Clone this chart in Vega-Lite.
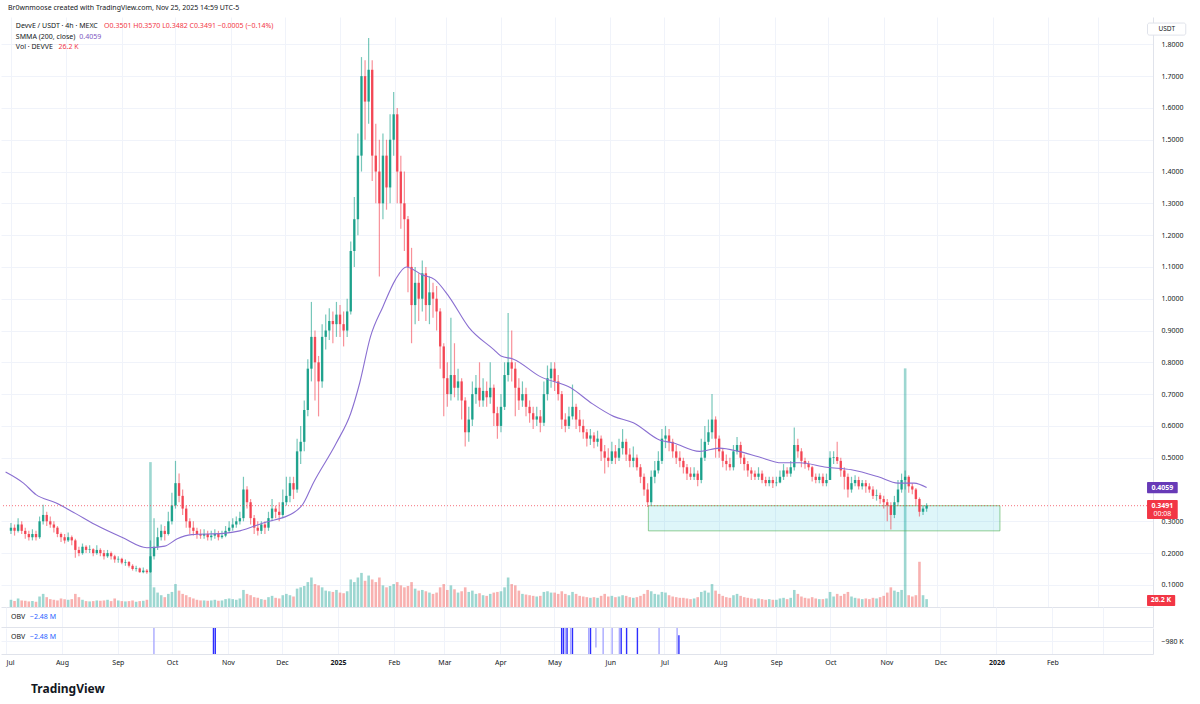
{
  "$schema": "https://vega.github.io/schema/vega-lite/v6.json",
  "padding": {"top": 4, "left": 0, "right": 0, "bottom": 8},
  "spacing": 0,
  "background": "white",
  "title": {"text": "Br0wnmoose created with TradingView.com, Nov 25, 2025 14:59 UTC-5", "anchor": "start", "frame": "group", "fontSize": 7, "fontWeight": "normal", "color": "#131722", "dx": 7, "offset": 6},
  "datasets": {
    "candles": [
      {"t":"2024-07-01","o":0.27,"h":0.295,"l":0.26,"c":0.28,"v":110},
      {"t":"2024-07-03","o":0.28,"h":0.29,"l":0.255,"c":0.27,"v":90},
      {"t":"2024-07-05","o":0.27,"h":0.31,"l":0.265,"c":0.29,"v":130},
      {"t":"2024-07-07","o":0.29,"h":0.30,"l":0.26,"c":0.27,"v":100},
      {"t":"2024-07-09","o":0.27,"h":0.28,"l":0.245,"c":0.26,"v":95},
      {"t":"2024-07-11","o":0.26,"h":0.27,"l":0.24,"c":0.25,"v":85},
      {"t":"2024-07-13","o":0.25,"h":0.275,"l":0.24,"c":0.26,"v":90},
      {"t":"2024-07-15","o":0.26,"h":0.27,"l":0.24,"c":0.25,"v":80},
      {"t":"2024-07-17","o":0.25,"h":0.315,"l":0.245,"c":0.30,"v":160},
      {"t":"2024-07-19","o":0.30,"h":0.352,"l":0.29,"c":0.32,"v":200},
      {"t":"2024-07-21","o":0.32,"h":0.33,"l":0.285,"c":0.30,"v":150},
      {"t":"2024-07-23","o":0.30,"h":0.315,"l":0.28,"c":0.29,"v":120},
      {"t":"2024-07-25","o":0.29,"h":0.30,"l":0.265,"c":0.28,"v":110},
      {"t":"2024-07-27","o":0.28,"h":0.285,"l":0.25,"c":0.26,"v":100},
      {"t":"2024-07-29","o":0.26,"h":0.265,"l":0.235,"c":0.25,"v":130},
      {"t":"2024-07-31","o":0.25,"h":0.26,"l":0.23,"c":0.24,"v":120},
      {"t":"2024-08-02","o":0.24,"h":0.265,"l":0.235,"c":0.25,"v":110},
      {"t":"2024-08-04","o":0.25,"h":0.255,"l":0.225,"c":0.24,"v":120},
      {"t":"2024-08-06","o":0.24,"h":0.245,"l":0.185,"c":0.21,"v":200},
      {"t":"2024-08-08","o":0.21,"h":0.22,"l":0.19,"c":0.20,"v":150},
      {"t":"2024-08-10","o":0.20,"h":0.23,"l":0.195,"c":0.22,"v":110},
      {"t":"2024-08-12","o":0.22,"h":0.225,"l":0.20,"c":0.21,"v":90},
      {"t":"2024-08-14","o":0.21,"h":0.225,"l":0.20,"c":0.212,"v":85},
      {"t":"2024-08-16","o":0.212,"h":0.215,"l":0.19,"c":0.20,"v":90},
      {"t":"2024-08-18","o":0.20,"h":0.225,"l":0.195,"c":0.21,"v":100},
      {"t":"2024-08-20","o":0.21,"h":0.215,"l":0.19,"c":0.20,"v":95},
      {"t":"2024-08-22","o":0.20,"h":0.21,"l":0.18,"c":0.19,"v":100},
      {"t":"2024-08-24","o":0.19,"h":0.21,"l":0.185,"c":0.20,"v":110},
      {"t":"2024-08-26","o":0.20,"h":0.205,"l":0.18,"c":0.19,"v":90},
      {"t":"2024-08-28","o":0.19,"h":0.195,"l":0.17,"c":0.18,"v":130},
      {"t":"2024-08-30","o":0.18,"h":0.19,"l":0.17,"c":0.182,"v":100},
      {"t":"2024-09-01","o":0.182,"h":0.185,"l":0.165,"c":0.17,"v":90},
      {"t":"2024-09-03","o":0.17,"h":0.18,"l":0.16,"c":0.172,"v":85},
      {"t":"2024-09-05","o":0.172,"h":0.175,"l":0.155,"c":0.16,"v":90},
      {"t":"2024-09-07","o":0.16,"h":0.165,"l":0.145,"c":0.15,"v":100},
      {"t":"2024-09-09","o":0.15,"h":0.16,"l":0.142,"c":0.152,"v":80},
      {"t":"2024-09-11","o":0.152,"h":0.155,"l":0.138,"c":0.14,"v":90},
      {"t":"2024-09-13","o":0.14,"h":0.155,"l":0.137,"c":0.145,"v":95},
      {"t":"2024-09-15","o":0.145,"h":0.15,"l":0.135,"c":0.14,"v":110},
      {"t":"2024-09-17","o":0.14,"h":0.24,"l":0.138,"c":0.19,"v":2210},
      {"t":"2024-09-19","o":0.19,"h":0.31,"l":0.18,"c":0.22,"v":300},
      {"t":"2024-09-21","o":0.22,"h":0.28,"l":0.21,"c":0.25,"v":220},
      {"t":"2024-09-23","o":0.25,"h":0.29,"l":0.24,"c":0.27,"v":180},
      {"t":"2024-09-25","o":0.27,"h":0.285,"l":0.24,"c":0.26,"v":150},
      {"t":"2024-09-27","o":0.26,"h":0.33,"l":0.255,"c":0.30,"v":200},
      {"t":"2024-09-29","o":0.30,"h":0.39,"l":0.29,"c":0.35,"v":230},
      {"t":"2024-10-01","o":0.35,"h":0.49,"l":0.34,"c":0.42,"v":350},
      {"t":"2024-10-03","o":0.42,"h":0.45,"l":0.36,"c":0.38,"v":250},
      {"t":"2024-10-05","o":0.38,"h":0.40,"l":0.32,"c":0.34,"v":200},
      {"t":"2024-10-07","o":0.34,"h":0.35,"l":0.28,"c":0.30,"v":180},
      {"t":"2024-10-09","o":0.30,"h":0.31,"l":0.26,"c":0.28,"v":150},
      {"t":"2024-10-11","o":0.28,"h":0.30,"l":0.255,"c":0.27,"v":130},
      {"t":"2024-10-13","o":0.27,"h":0.28,"l":0.245,"c":0.26,"v":110},
      {"t":"2024-10-15","o":0.26,"h":0.275,"l":0.245,"c":0.255,"v":100},
      {"t":"2024-10-17","o":0.255,"h":0.275,"l":0.245,"c":0.26,"v":100},
      {"t":"2024-10-19","o":0.26,"h":0.27,"l":0.24,"c":0.25,"v":95},
      {"t":"2024-10-21","o":0.25,"h":0.27,"l":0.24,"c":0.255,"v":100},
      {"t":"2024-10-23","o":0.255,"h":0.275,"l":0.245,"c":0.26,"v":110},
      {"t":"2024-10-25","o":0.26,"h":0.27,"l":0.24,"c":0.25,"v":95},
      {"t":"2024-10-27","o":0.25,"h":0.27,"l":0.245,"c":0.255,"v":100},
      {"t":"2024-10-29","o":0.255,"h":0.285,"l":0.25,"c":0.27,"v":120},
      {"t":"2024-10-31","o":0.27,"h":0.30,"l":0.265,"c":0.28,"v":130},
      {"t":"2024-11-02","o":0.28,"h":0.31,"l":0.27,"c":0.29,"v":120},
      {"t":"2024-11-04","o":0.29,"h":0.315,"l":0.28,"c":0.30,"v":110},
      {"t":"2024-11-06","o":0.30,"h":0.33,"l":0.29,"c":0.31,"v":130},
      {"t":"2024-11-08","o":0.31,"h":0.44,"l":0.30,"c":0.40,"v":260},
      {"t":"2024-11-10","o":0.40,"h":0.41,"l":0.34,"c":0.36,"v":200},
      {"t":"2024-11-12","o":0.36,"h":0.37,"l":0.29,"c":0.31,"v":180},
      {"t":"2024-11-14","o":0.31,"h":0.32,"l":0.26,"c":0.28,"v":150},
      {"t":"2024-11-16","o":0.28,"h":0.30,"l":0.255,"c":0.27,"v":140},
      {"t":"2024-11-18","o":0.27,"h":0.30,"l":0.26,"c":0.29,"v":120},
      {"t":"2024-11-20","o":0.29,"h":0.30,"l":0.26,"c":0.28,"v":110},
      {"t":"2024-11-22","o":0.28,"h":0.33,"l":0.27,"c":0.31,"v":150},
      {"t":"2024-11-24","o":0.31,"h":0.37,"l":0.30,"c":0.34,"v":170},
      {"t":"2024-11-26","o":0.34,"h":0.35,"l":0.31,"c":0.33,"v":140},
      {"t":"2024-11-28","o":0.33,"h":0.36,"l":0.30,"c":0.32,"v":130},
      {"t":"2024-11-30","o":0.32,"h":0.40,"l":0.31,"c":0.36,"v":180},
      {"t":"2024-12-02","o":0.36,"h":0.44,"l":0.35,"c":0.38,"v":200},
      {"t":"2024-12-04","o":0.38,"h":0.44,"l":0.36,"c":0.42,"v":180},
      {"t":"2024-12-06","o":0.42,"h":0.44,"l":0.37,"c":0.40,"v":160},
      {"t":"2024-12-08","o":0.40,"h":0.56,"l":0.39,"c":0.52,"v":280},
      {"t":"2024-12-10","o":0.52,"h":0.60,"l":0.48,"c":0.55,"v":300},
      {"t":"2024-12-12","o":0.55,"h":0.68,"l":0.52,"c":0.65,"v":320},
      {"t":"2024-12-14","o":0.65,"h":0.81,"l":0.63,"c":0.78,"v":380},
      {"t":"2024-12-16","o":0.78,"h":0.99,"l":0.74,"c":0.88,"v":450},
      {"t":"2024-12-18","o":0.88,"h":0.90,"l":0.68,"c":0.80,"v":350},
      {"t":"2024-12-20","o":0.80,"h":0.82,"l":0.63,"c":0.74,"v":330},
      {"t":"2024-12-22","o":0.74,"h":0.92,"l":0.72,"c":0.88,"v":300},
      {"t":"2024-12-24","o":0.88,"h":0.95,"l":0.84,"c":0.90,"v":250},
      {"t":"2024-12-26","o":0.90,"h":0.97,"l":0.87,"c":0.93,"v":240},
      {"t":"2024-12-28","o":0.93,"h":0.96,"l":0.86,"c":0.92,"v":230},
      {"t":"2024-12-30","o":0.92,"h":0.99,"l":0.88,"c":0.95,"v":260},
      {"t":"2025-01-01","o":0.95,"h":0.98,"l":0.88,"c":0.92,"v":220},
      {"t":"2025-01-03","o":0.92,"h":0.96,"l":0.85,"c":0.90,"v":210},
      {"t":"2025-01-05","o":0.90,"h":1.00,"l":0.88,"c":0.96,"v":240},
      {"t":"2025-01-07","o":0.96,"h":1.18,"l":0.95,"c":1.15,"v":420},
      {"t":"2025-01-09","o":1.15,"h":1.32,"l":1.10,"c":1.25,"v":380},
      {"t":"2025-01-11","o":1.25,"h":1.52,"l":1.20,"c":1.45,"v":450},
      {"t":"2025-01-13","o":1.45,"h":1.76,"l":1.40,"c":1.70,"v":520},
      {"t":"2025-01-15","o":1.70,"h":1.75,"l":1.50,"c":1.62,"v":400},
      {"t":"2025-01-17","o":1.62,"h":1.82,"l":1.55,"c":1.72,"v":480},
      {"t":"2025-01-19","o":1.72,"h":1.75,"l":1.37,"c":1.45,"v":420},
      {"t":"2025-01-21","o":1.45,"h":1.55,"l":1.30,"c":1.40,"v":380},
      {"t":"2025-01-23","o":1.40,"h":1.50,"l":1.07,"c":1.30,"v":450},
      {"t":"2025-01-25","o":1.30,"h":1.52,"l":1.25,"c":1.45,"v":330},
      {"t":"2025-01-27","o":1.45,"h":1.50,"l":1.28,"c":1.35,"v":300},
      {"t":"2025-01-29","o":1.35,"h":1.58,"l":1.30,"c":1.50,"v":320},
      {"t":"2025-01-31","o":1.50,"h":1.65,"l":1.45,"c":1.58,"v":350},
      {"t":"2025-02-02","o":1.58,"h":1.60,"l":1.30,"c":1.40,"v":380},
      {"t":"2025-02-04","o":1.40,"h":1.45,"l":1.22,"c":1.30,"v":330},
      {"t":"2025-02-06","o":1.30,"h":1.40,"l":1.15,"c":1.25,"v":300},
      {"t":"2025-02-08","o":1.25,"h":1.26,"l":1.02,"c":1.10,"v":320},
      {"t":"2025-02-10","o":1.10,"h":1.16,"l":0.86,"c":0.98,"v":380},
      {"t":"2025-02-12","o":0.98,"h":1.10,"l":0.92,"c":1.05,"v":280},
      {"t":"2025-02-14","o":1.05,"h":1.08,"l":0.93,"c":1.00,"v":250},
      {"t":"2025-02-16","o":1.00,"h":1.12,"l":0.96,"c":1.08,"v":260},
      {"t":"2025-02-18","o":1.08,"h":1.10,"l":0.93,"c":0.98,"v":240},
      {"t":"2025-02-20","o":0.98,"h":1.07,"l":0.92,"c":1.02,"v":220},
      {"t":"2025-02-22","o":1.02,"h":1.05,"l":0.94,"c":1.00,"v":200},
      {"t":"2025-02-24","o":1.00,"h":1.04,"l":0.90,"c":0.96,"v":220},
      {"t":"2025-02-26","o":0.96,"h":0.97,"l":0.78,"c":0.85,"v":300},
      {"t":"2025-02-28","o":0.85,"h":0.86,"l":0.63,"c":0.75,"v":350},
      {"t":"2025-03-02","o":0.75,"h":0.80,"l":0.66,"c":0.70,"v":260},
      {"t":"2025-03-04","o":0.70,"h":0.94,"l":0.68,"c":0.76,"v":330},
      {"t":"2025-03-06","o":0.76,"h":0.86,"l":0.69,"c":0.72,"v":270},
      {"t":"2025-03-08","o":0.72,"h":0.78,"l":0.68,"c":0.74,"v":220},
      {"t":"2025-03-10","o":0.74,"h":0.75,"l":0.62,"c":0.68,"v":240},
      {"t":"2025-03-12","o":0.68,"h":0.69,"l":0.535,"c":0.58,"v":300},
      {"t":"2025-03-14","o":0.58,"h":0.66,"l":0.55,"c":0.62,"v":230},
      {"t":"2025-03-16","o":0.62,"h":0.74,"l":0.60,"c":0.70,"v":250},
      {"t":"2025-03-18","o":0.70,"h":0.76,"l":0.67,"c":0.72,"v":200},
      {"t":"2025-03-20","o":0.72,"h":0.80,"l":0.66,"c":0.68,"v":210},
      {"t":"2025-03-22","o":0.68,"h":0.75,"l":0.66,"c":0.71,"v":180},
      {"t":"2025-03-24","o":0.71,"h":0.74,"l":0.66,"c":0.69,"v":170},
      {"t":"2025-03-26","o":0.69,"h":0.80,"l":0.67,"c":0.72,"v":200},
      {"t":"2025-03-28","o":0.72,"h":0.73,"l":0.60,"c":0.64,"v":220},
      {"t":"2025-03-30","o":0.64,"h":0.66,"l":0.56,"c":0.60,"v":230},
      {"t":"2025-04-01","o":0.60,"h":0.70,"l":0.58,"c":0.66,"v":240},
      {"t":"2025-04-03","o":0.66,"h":0.80,"l":0.65,"c":0.76,"v":300},
      {"t":"2025-04-05","o":0.76,"h":0.955,"l":0.74,"c":0.80,"v":450},
      {"t":"2025-04-07","o":0.80,"h":0.90,"l":0.74,"c":0.78,"v":350},
      {"t":"2025-04-09","o":0.78,"h":0.80,"l":0.63,"c":0.72,"v":330},
      {"t":"2025-04-11","o":0.72,"h":0.75,"l":0.65,"c":0.68,"v":250},
      {"t":"2025-04-13","o":0.68,"h":0.74,"l":0.66,"c":0.70,"v":200},
      {"t":"2025-04-15","o":0.70,"h":0.72,"l":0.63,"c":0.66,"v":190},
      {"t":"2025-04-17","o":0.66,"h":0.68,"l":0.61,"c":0.64,"v":180},
      {"t":"2025-04-19","o":0.64,"h":0.66,"l":0.59,"c":0.62,"v":170},
      {"t":"2025-04-21","o":0.62,"h":0.66,"l":0.60,"c":0.63,"v":160},
      {"t":"2025-04-23","o":0.63,"h":0.65,"l":0.58,"c":0.61,"v":170},
      {"t":"2025-04-25","o":0.61,"h":0.74,"l":0.60,"c":0.70,"v":230},
      {"t":"2025-04-27","o":0.70,"h":0.79,"l":0.68,"c":0.75,"v":240},
      {"t":"2025-04-29","o":0.75,"h":0.80,"l":0.72,"c":0.78,"v":220},
      {"t":"2025-05-01","o":0.78,"h":0.80,"l":0.71,"c":0.74,"v":220},
      {"t":"2025-05-03","o":0.74,"h":0.76,"l":0.68,"c":0.70,"v":200},
      {"t":"2025-05-05","o":0.70,"h":0.71,"l":0.59,"c":0.62,"v":240},
      {"t":"2025-05-07","o":0.62,"h":0.64,"l":0.58,"c":0.60,"v":200},
      {"t":"2025-05-09","o":0.60,"h":0.66,"l":0.59,"c":0.63,"v":180},
      {"t":"2025-05-11","o":0.63,"h":0.73,"l":0.62,"c":0.66,"v":230},
      {"t":"2025-05-13","o":0.66,"h":0.67,"l":0.59,"c":0.62,"v":200},
      {"t":"2025-05-15","o":0.62,"h":0.65,"l":0.58,"c":0.60,"v":170},
      {"t":"2025-05-17","o":0.60,"h":0.62,"l":0.56,"c":0.58,"v":160},
      {"t":"2025-05-19","o":0.58,"h":0.59,"l":0.535,"c":0.56,"v":150},
      {"t":"2025-05-21","o":0.56,"h":0.59,"l":0.54,"c":0.57,"v":140},
      {"t":"2025-05-23","o":0.57,"h":0.58,"l":0.53,"c":0.55,"v":150},
      {"t":"2025-05-25","o":0.55,"h":0.585,"l":0.535,"c":0.56,"v":140},
      {"t":"2025-05-27","o":0.56,"h":0.57,"l":0.49,"c":0.52,"v":170},
      {"t":"2025-05-29","o":0.52,"h":0.54,"l":0.45,"c":0.50,"v":200},
      {"t":"2025-05-31","o":0.50,"h":0.53,"l":0.47,"c":0.49,"v":160},
      {"t":"2025-06-02","o":0.49,"h":0.55,"l":0.48,"c":0.52,"v":170},
      {"t":"2025-06-04","o":0.52,"h":0.54,"l":0.48,"c":0.50,"v":150},
      {"t":"2025-06-06","o":0.50,"h":0.56,"l":0.49,"c":0.53,"v":160},
      {"t":"2025-06-08","o":0.53,"h":0.59,"l":0.51,"c":0.55,"v":180},
      {"t":"2025-06-10","o":0.55,"h":0.56,"l":0.49,"c":0.51,"v":170},
      {"t":"2025-06-12","o":0.51,"h":0.53,"l":0.47,"c":0.49,"v":150},
      {"t":"2025-06-14","o":0.49,"h":0.535,"l":0.47,"c":0.50,"v":140},
      {"t":"2025-06-16","o":0.50,"h":0.51,"l":0.46,"c":0.47,"v":150},
      {"t":"2025-06-18","o":0.47,"h":0.48,"l":0.42,"c":0.44,"v":170},
      {"t":"2025-06-20","o":0.44,"h":0.45,"l":0.38,"c":0.40,"v":200},
      {"t":"2025-06-22","o":0.40,"h":0.42,"l":0.345,"c":0.36,"v":260},
      {"t":"2025-06-24","o":0.36,"h":0.46,"l":0.35,"c":0.44,"v":240},
      {"t":"2025-06-26","o":0.44,"h":0.49,"l":0.42,"c":0.46,"v":200},
      {"t":"2025-06-28","o":0.46,"h":0.52,"l":0.45,"c":0.49,"v":190},
      {"t":"2025-06-30","o":0.49,"h":0.59,"l":0.48,"c":0.56,"v":230},
      {"t":"2025-07-02","o":0.56,"h":0.60,"l":0.53,"c":0.57,"v":220},
      {"t":"2025-07-04","o":0.57,"h":0.59,"l":0.52,"c":0.55,"v":180},
      {"t":"2025-07-06","o":0.55,"h":0.56,"l":0.50,"c":0.52,"v":160},
      {"t":"2025-07-08","o":0.52,"h":0.54,"l":0.48,"c":0.50,"v":150},
      {"t":"2025-07-10","o":0.50,"h":0.52,"l":0.47,"c":0.49,"v":140},
      {"t":"2025-07-12","o":0.49,"h":0.50,"l":0.45,"c":0.47,"v":140},
      {"t":"2025-07-14","o":0.47,"h":0.48,"l":0.43,"c":0.45,"v":130},
      {"t":"2025-07-16","o":0.45,"h":0.47,"l":0.43,"c":0.44,"v":120},
      {"t":"2025-07-18","o":0.44,"h":0.47,"l":0.43,"c":0.45,"v":130},
      {"t":"2025-07-20","o":0.45,"h":0.46,"l":0.41,"c":0.43,"v":150},
      {"t":"2025-07-22","o":0.43,"h":0.56,"l":0.42,"c":0.50,"v":230},
      {"t":"2025-07-24","o":0.50,"h":0.60,"l":0.49,"c":0.55,"v":250},
      {"t":"2025-07-26","o":0.55,"h":0.62,"l":0.54,"c":0.58,"v":220},
      {"t":"2025-07-28","o":0.58,"h":0.70,"l":0.56,"c":0.62,"v":350},
      {"t":"2025-07-30","o":0.62,"h":0.63,"l":0.50,"c":0.56,"v":250},
      {"t":"2025-08-01","o":0.56,"h":0.57,"l":0.50,"c":0.52,"v":200},
      {"t":"2025-08-03","o":0.52,"h":0.53,"l":0.47,"c":0.49,"v":170},
      {"t":"2025-08-05","o":0.49,"h":0.51,"l":0.46,"c":0.48,"v":150},
      {"t":"2025-08-07","o":0.48,"h":0.50,"l":0.46,"c":0.47,"v":140},
      {"t":"2025-08-09","o":0.47,"h":0.54,"l":0.46,"c":0.52,"v":180},
      {"t":"2025-08-11","o":0.52,"h":0.565,"l":0.51,"c":0.54,"v":200},
      {"t":"2025-08-13","o":0.54,"h":0.55,"l":0.48,"c":0.50,"v":170},
      {"t":"2025-08-15","o":0.50,"h":0.51,"l":0.46,"c":0.48,"v":150},
      {"t":"2025-08-17","o":0.48,"h":0.49,"l":0.44,"c":0.46,"v":140},
      {"t":"2025-08-19","o":0.46,"h":0.47,"l":0.43,"c":0.45,"v":130},
      {"t":"2025-08-21","o":0.45,"h":0.46,"l":0.43,"c":0.44,"v":120},
      {"t":"2025-08-23","o":0.44,"h":0.47,"l":0.43,"c":0.45,"v":130},
      {"t":"2025-08-25","o":0.45,"h":0.46,"l":0.42,"c":0.43,"v":120},
      {"t":"2025-08-27","o":0.43,"h":0.44,"l":0.41,"c":0.42,"v":110},
      {"t":"2025-08-29","o":0.42,"h":0.44,"l":0.41,"c":0.43,"v":120},
      {"t":"2025-08-31","o":0.43,"h":0.44,"l":0.405,"c":0.42,"v":110},
      {"t":"2025-09-02","o":0.42,"h":0.44,"l":0.41,"c":0.422,"v":110},
      {"t":"2025-09-04","o":0.422,"h":0.46,"l":0.42,"c":0.44,"v":130},
      {"t":"2025-09-06","o":0.44,"h":0.48,"l":0.43,"c":0.46,"v":140},
      {"t":"2025-09-08","o":0.46,"h":0.47,"l":0.44,"c":0.45,"v":120},
      {"t":"2025-09-10","o":0.45,"h":0.49,"l":0.44,"c":0.47,"v":140},
      {"t":"2025-09-12","o":0.47,"h":0.595,"l":0.46,"c":0.54,"v":260},
      {"t":"2025-09-14","o":0.54,"h":0.56,"l":0.50,"c":0.52,"v":200},
      {"t":"2025-09-16","o":0.52,"h":0.53,"l":0.47,"c":0.49,"v":160},
      {"t":"2025-09-18","o":0.49,"h":0.50,"l":0.465,"c":0.48,"v":140},
      {"t":"2025-09-20","o":0.48,"h":0.49,"l":0.46,"c":0.47,"v":130},
      {"t":"2025-09-22","o":0.47,"h":0.475,"l":0.425,"c":0.44,"v":150},
      {"t":"2025-09-24","o":0.44,"h":0.45,"l":0.42,"c":0.43,"v":130},
      {"t":"2025-09-26","o":0.43,"h":0.45,"l":0.42,"c":0.44,"v":120},
      {"t":"2025-09-28","o":0.44,"h":0.45,"l":0.41,"c":0.42,"v":120},
      {"t":"2025-09-30","o":0.42,"h":0.45,"l":0.41,"c":0.43,"v":130},
      {"t":"2025-10-02","o":0.43,"h":0.52,"l":0.43,"c":0.50,"v":230},
      {"t":"2025-10-04","o":0.50,"h":0.52,"l":0.48,"c":0.502,"v":160},
      {"t":"2025-10-06","o":0.502,"h":0.55,"l":0.48,"c":0.49,"v":200},
      {"t":"2025-10-08","o":0.49,"h":0.50,"l":0.44,"c":0.46,"v":170},
      {"t":"2025-10-10","o":0.46,"h":0.47,"l":0.40,"c":0.44,"v":200},
      {"t":"2025-10-12","o":0.44,"h":0.45,"l":0.375,"c":0.40,"v":230},
      {"t":"2025-10-14","o":0.40,"h":0.44,"l":0.39,"c":0.42,"v":160},
      {"t":"2025-10-16","o":0.42,"h":0.445,"l":0.41,"c":0.43,"v":140},
      {"t":"2025-10-18","o":0.43,"h":0.44,"l":0.40,"c":0.41,"v":130},
      {"t":"2025-10-20","o":0.41,"h":0.43,"l":0.40,"c":0.42,"v":120},
      {"t":"2025-10-22","o":0.42,"h":0.43,"l":0.39,"c":0.41,"v":130},
      {"t":"2025-10-24","o":0.41,"h":0.42,"l":0.39,"c":0.40,"v":120},
      {"t":"2025-10-26","o":0.40,"h":0.41,"l":0.37,"c":0.38,"v":140},
      {"t":"2025-10-28","o":0.38,"h":0.40,"l":0.365,"c":0.382,"v":130},
      {"t":"2025-10-30","o":0.382,"h":0.39,"l":0.355,"c":0.37,"v":150},
      {"t":"2025-11-01","o":0.37,"h":0.38,"l":0.34,"c":0.36,"v":170},
      {"t":"2025-11-03","o":0.36,"h":0.37,"l":0.30,"c":0.35,"v":220},
      {"t":"2025-11-05","o":0.35,"h":0.36,"l":0.274,"c":0.32,"v":300},
      {"t":"2025-11-07","o":0.32,"h":0.38,"l":0.31,"c":0.36,"v":250},
      {"t":"2025-11-09","o":0.36,"h":0.43,"l":0.35,"c":0.40,"v":230},
      {"t":"2025-11-11","o":0.40,"h":0.45,"l":0.39,"c":0.43,"v":260},
      {"t":"2025-11-13","o":0.43,"h":0.46,"l":0.40,"c":0.44,"v":3640},
      {"t":"2025-11-15","o":0.44,"h":0.445,"l":0.39,"c":0.41,"v":180},
      {"t":"2025-11-17","o":0.41,"h":0.42,"l":0.385,"c":0.40,"v":160},
      {"t":"2025-11-19","o":0.40,"h":0.405,"l":0.35,"c":0.37,"v":180},
      {"t":"2025-11-21","o":0.37,"h":0.375,"l":0.315,"c":0.33,"v":690},
      {"t":"2025-11-23","o":0.33,"h":0.35,"l":0.32,"c":0.34,"v":180},
      {"t":"2025-11-25","o":0.34,"h":0.357,"l":0.33,"c":0.3491,"v":120}
    ],
    "smma": [
      {"t":"2024-06-28","s":0.455},{"t":"2024-07-08","s":0.42},{"t":"2024-07-15","s":0.384},{"t":"2024-07-26","s":0.358},
      {"t":"2024-08-06","s":0.325},{"t":"2024-08-17","s":0.29},{"t":"2024-09-01","s":0.25},{"t":"2024-09-15","s":0.217},
      {"t":"2024-09-25","s":0.222},{"t":"2024-10-02","s":0.245},{"t":"2024-10-10","s":0.258},{"t":"2024-10-28","s":0.262},
      {"t":"2024-11-06","s":0.27},{"t":"2024-11-19","s":0.295},{"t":"2024-12-06","s":0.327},{"t":"2024-12-11","s":0.352},
      {"t":"2024-12-17","s":0.42},{"t":"2024-12-30","s":0.547},{"t":"2025-01-07","s":0.64},{"t":"2025-01-12","s":0.735},
      {"t":"2025-01-18","s":0.88},{"t":"2025-01-25","s":0.975},{"t":"2025-02-01","s":1.06},{"t":"2025-02-07","s":1.10},
      {"t":"2025-02-16","s":1.075},{"t":"2025-02-23","s":1.06},{"t":"2025-03-03","s":1.006},{"t":"2025-03-14","s":0.91},
      {"t":"2025-03-28","s":0.84},{"t":"2025-04-01","s":0.82},{"t":"2025-04-08","s":0.81},{"t":"2025-04-23","s":0.755},
      {"t":"2025-05-10","s":0.72},{"t":"2025-05-22","s":0.67},{"t":"2025-06-03","s":0.63},{"t":"2025-06-14","s":0.61},
      {"t":"2025-06-29","s":0.555},{"t":"2025-07-06","s":0.547},{"t":"2025-07-21","s":0.52},{"t":"2025-08-01","s":0.53},
      {"t":"2025-08-12","s":0.52},{"t":"2025-08-23","s":0.503},{"t":"2025-09-05","s":0.484},{"t":"2025-09-15","s":0.484},
      {"t":"2025-09-30","s":0.47},{"t":"2025-10-14","s":0.462},{"t":"2025-10-29","s":0.44},{"t":"2025-11-09","s":0.42},
      {"t":"2025-11-18","s":0.42},{"t":"2025-11-25","s":0.406}
    ],
    "zone": [
      {"start":"2025-06-22T10:00:00Z","end":"2026-01-05T00:00:00Z","top":0.349,"bottom":0.270}
    ],
    "obv": [
      {"t":"2024-09-21","lo":-1020,"hi":-940,"k":"light"},
      {"t":"2024-10-24","lo":-1020,"hi":-940,"k":"strong"},
      {"t":"2024-10-25","lo":-1020,"hi":-940,"k":"strong"},
      {"t":"2025-05-05","lo":-1020,"hi":-940,"k":"strong"},
      {"t":"2025-05-06","lo":-1020,"hi":-940,"k":"strong"},
      {"t":"2025-05-07","lo":-1020,"hi":-940,"k":"light"},
      {"t":"2025-05-08","lo":-1020,"hi":-940,"k":"strong"},
      {"t":"2025-05-10","lo":-1020,"hi":-940,"k":"light"},
      {"t":"2025-05-11","lo":-1020,"hi":-940,"k":"strong"},
      {"t":"2025-05-20","lo":-1020,"hi":-940,"k":"light"},
      {"t":"2025-05-21","lo":-1020,"hi":-940,"k":"strong"},
      {"t":"2025-05-24","lo":-1000,"hi":-940,"k":"light"},
      {"t":"2025-05-28","lo":-1020,"hi":-940,"k":"light"},
      {"t":"2025-06-02","lo":-1020,"hi":-940,"k":"light"},
      {"t":"2025-06-06","lo":-1020,"hi":-940,"k":"light"},
      {"t":"2025-06-07","lo":-1020,"hi":-940,"k":"strong"},
      {"t":"2025-06-10","lo":-1020,"hi":-940,"k":"strong"},
      {"t":"2025-06-16","lo":-1020,"hi":-940,"k":"strong"},
      {"t":"2025-06-28","lo":-1020,"hi":-940,"k":"light"},
      {"t":"2025-07-08","lo":-1020,"hi":-940,"k":"light"},
      {"t":"2025-07-09","lo":-1020,"hi":-962,"k":"strong"}
    ]
  },
  "vconcat": [
    {
      "width": 1152,
      "height": 590,
      "layer": [
        {
          "data": {"name": "candles"},
          "mark": {"type": "bar", "size": 2.6, "opacity": 0.45},
          "encoding": {
            "x": {"field": "t", "type": "temporal", "scale": {"type": "utc", "domain": [{"year": 2024, "month": 6, "date": 28, "hours": 5, "minutes": 30, "utc": true}, {"year": 2026, "month": 3, "date": 28, "hours": 19, "utc": true}]}, "axis": {"labels": false, "grid": true, "domain": true, "ticks": false, "tickCount": {"interval": "month", "step": 1}}},
            "y": {"field": "v", "type": "quantitative", "scale": {"domain": [0, 9000], "nice": false, "zero": true}, "axis": null},
            "color": {"condition": {"test": "datum.c >= datum.o", "value": "#26a69a"}, "value": "#ef5350"}
          }
        },
        {
          "layer": [
            {
              "data": {"name": "zone"},
              "mark": {"type": "rect", "fill": "#00bcd4", "fillOpacity": 0.13, "stroke": "#4caf50", "strokeOpacity": 0.6, "strokeWidth": 1},
              "encoding": {
                "x": {"field": "start", "type": "temporal"},
                "x2": {"field": "end"},
                "y": {"field": "top", "type": "quantitative", "scale": {"domain": [0.0305, 1.886], "nice": false, "zero": false}, "axis": {"orient": "right", "values": [0.1, 0.2, 0.3, 0.5, 0.6, 0.7, 0.8, 0.9, 1.0, 1.1, 1.2, 1.3, 1.4, 1.5, 1.6, 1.7, 1.8], "tickCount": 18, "format": ".4f", "grid": true, "domain": true, "ticks": false, "labelPadding": 8, "labelOverlap": false, "labelSeparation": 0, "labelBound": false}},
                "y2": {"field": "bottom"}
              }
            },
            {
              "data": {"name": "candles"},
              "mark": {"type": "rule", "strokeWidth": 1.2, "opacity": 0.55},
              "encoding": {
                "x": {"field": "t", "type": "temporal"},
                "y": {"field": "l", "type": "quantitative", "axis": {"orient": "right", "values": [0.1, 0.2, 0.3, 0.5, 0.6, 0.7, 0.8, 0.9, 1.0, 1.1, 1.2, 1.3, 1.4, 1.5, 1.6, 1.7, 1.8], "tickCount": 18, "format": ".4f", "grid": true, "domain": true, "ticks": false, "labelPadding": 8, "labelOverlap": false, "labelSeparation": 0, "labelBound": false}},
                "y2": {"field": "h"},
                "color": {"condition": {"test": "datum.c >= datum.o", "value": "#089981"}, "value": "#f23645"}
              }
            },
            {
              "data": {"name": "candles"},
              "mark": {"type": "bar", "size": 2.4, "opacity": 0.85},
              "encoding": {
                "x": {"field": "t", "type": "temporal"},
                "y": {"field": "o", "type": "quantitative"},
                "y2": {"field": "c"},
                "color": {"condition": {"test": "datum.c >= datum.o", "value": "#089981"}, "value": "#f23645"}
              }
            },
            {
              "data": {"name": "smma"},
              "mark": {"type": "line", "color": "#8a6fd1", "strokeWidth": 1.1, "interpolate": "monotone"},
              "encoding": {
                "x": {"field": "t", "type": "temporal"},
                "y": {"field": "s", "type": "quantitative"}
              }
            },
            {
              "data": {"values": [{}]},
              "mark": {"type": "rule", "color": "#f23645", "strokeDash": [1, 2], "opacity": 0.7},
              "encoding": {"y": {"datum": 0.3491, "type": "quantitative"}}
            },
            {
              "data": {"values": [{}]},
              "mark": {"type": "text", "text": "DevvE / USDT · 4h · MEXC", "align": "left", "baseline": "middle", "fontSize": 7, "color": "#131722"},
              "encoding": {"x": {"datum": {"year": 2024, "month": 7, "date": 3, "hours": 18, "utc": true}, "type": "temporal"}, "y": {"datum": 1.857, "type": "quantitative"}}
            },
            {
              "data": {"values": [{}]},
              "mark": {"type": "text", "text": "O0.3501 H0.3570 L0.3482 C0.3491 −0.0005 (−0.14%)", "align": "left", "baseline": "middle", "fontSize": 7, "color": "#f23645"},
              "encoding": {"x": {"datum": {"year": 2024, "month": 8, "date": 22, "hours": 2, "utc": true}, "type": "temporal"}, "y": {"datum": 1.857, "type": "quantitative"}}
            },
            {
              "data": {"values": [{}]},
              "mark": {"type": "text", "text": "SMMA (200, close)", "align": "left", "baseline": "middle", "fontSize": 7, "color": "#131722"},
              "encoding": {"x": {"datum": {"year": 2024, "month": 7, "date": 3, "hours": 18, "utc": true}, "type": "temporal"}, "y": {"datum": 1.8225, "type": "quantitative"}}
            },
            {
              "data": {"values": [{}]},
              "mark": {"type": "text", "text": "0.4059", "align": "left", "baseline": "middle", "fontSize": 7, "color": "#7e57c2"},
              "encoding": {"x": {"datum": {"year": 2024, "month": 8, "date": 8, "hours": 5, "utc": true}, "type": "temporal"}, "y": {"datum": 1.8225, "type": "quantitative"}}
            },
            {
              "data": {"values": [{}]},
              "mark": {"type": "text", "text": "Vol · DEVVE", "align": "left", "baseline": "middle", "fontSize": 7, "color": "#131722"},
              "encoding": {"x": {"datum": {"year": 2024, "month": 7, "date": 3, "hours": 18, "utc": true}, "type": "temporal"}, "y": {"datum": 1.7915, "type": "quantitative"}}
            },
            {
              "data": {"values": [{}]},
              "mark": {"type": "text", "text": "26.2 K", "align": "left", "baseline": "middle", "fontSize": 7, "color": "#f23645"},
              "encoding": {"x": {"datum": {"year": 2024, "month": 7, "date": 27, "hours": 14, "utc": true}, "type": "temporal"}, "y": {"datum": 1.7915, "type": "quantitative"}}
            },
            {
              "data": {"values": [{}]},
              "mark": {"type": "rect", "fill": "white", "stroke": "#e0e3eb", "cornerRadius": 2},
              "encoding": {"x": {"datum": {"year": 2026, "month": 3, "date": 28, "hours": 12, "utc": true}, "type": "temporal"}, "x2": {"datum": {"year": 2026, "month": 4, "date": 18, "hours": 22, "utc": true}}, "y": {"datum": 1.867, "type": "quantitative"}, "y2": {"datum": 1.829}}
            },
            {
              "data": {"values": [{}]},
              "mark": {"type": "text", "text": "USDT", "align": "center", "baseline": "middle", "fontSize": 6.5, "color": "#131722"},
              "encoding": {"x": {"datum": {"year": 2026, "month": 4, "date": 8, "hours": 7, "utc": true}, "type": "temporal"}, "y": {"datum": 1.848, "type": "quantitative"}}
            },
            {
              "data": {"values": [{}]},
              "mark": {"type": "rect", "fill": "#673ab7", "cornerRadius": 1},
              "encoding": {"x": {"datum": {"year": 2026, "month": 3, "date": 28, "hours": 6, "utc": true}, "type": "temporal"}, "x2": {"datum": {"year": 2026, "month": 4, "date": 14, "hours": 10, "utc": true}}, "y": {"datum": 0.424, "type": "quantitative"}, "y2": {"datum": 0.388}}
            },
            {
              "data": {"values": [{}]},
              "mark": {"type": "text", "text": "0.4059", "align": "center", "baseline": "middle", "fontSize": 7, "fontWeight": "bold", "color": "white"},
              "encoding": {"x": {"datum": {"year": 2026, "month": 4, "date": 5, "hours": 20, "utc": true}, "type": "temporal"}, "y": {"datum": 0.406, "type": "quantitative"}}
            },
            {
              "data": {"values": [{}]},
              "mark": {"type": "rect", "fill": "#f23645", "cornerRadius": 1},
              "encoding": {"x": {"datum": {"year": 2026, "month": 3, "date": 28, "hours": 6, "utc": true}, "type": "temporal"}, "x2": {"datum": {"year": 2026, "month": 4, "date": 14, "hours": 10, "utc": true}}, "y": {"datum": 0.367, "type": "quantitative"}, "y2": {"datum": 0.307}}
            },
            {
              "data": {"values": [{}]},
              "mark": {"type": "text", "text": "0.3491", "align": "center", "baseline": "middle", "fontSize": 7, "fontWeight": "bold", "color": "white"},
              "encoding": {"x": {"datum": {"year": 2026, "month": 4, "date": 5, "hours": 20, "utc": true}, "type": "temporal"}, "y": {"datum": 0.349, "type": "quantitative"}}
            },
            {
              "data": {"values": [{}]},
              "mark": {"type": "text", "text": "00:08", "align": "center", "baseline": "middle", "fontSize": 7, "color": "white"},
              "encoding": {"x": {"datum": {"year": 2026, "month": 4, "date": 5, "hours": 20, "utc": true}, "type": "temporal"}, "y": {"datum": 0.323, "type": "quantitative"}}
            },
            {
              "data": {"values": [{}]},
              "mark": {"type": "rect", "fill": "#f23645", "cornerRadius": 1},
              "encoding": {"x": {"datum": {"year": 2026, "month": 3, "date": 28, "hours": 6, "utc": true}, "type": "temporal"}, "x2": {"datum": {"year": 2026, "month": 4, "date": 13, "utc": true}}, "y": {"datum": 0.068, "type": "quantitative"}, "y2": {"datum": 0.034}}
            },
            {
              "data": {"values": [{}]},
              "mark": {"type": "text", "text": "26.2 K", "align": "center", "baseline": "middle", "fontSize": 7, "fontWeight": "bold", "color": "white"},
              "encoding": {"x": {"datum": {"year": 2026, "month": 4, "date": 5, "utc": true}, "type": "temporal"}, "y": {"datum": 0.051, "type": "quantitative"}}
            }
          ]
        }
      ],
      "resolve": {"scale": {"y": "independent"}, "axis": {"y": "independent"}}
    },
    {
      "width": 1152,
      "height": 20,
      "data": {"values": [{}]},
      "layer": [
        {
          "mark": {"type": "text", "text": "OBV", "align": "left", "baseline": "middle", "fontSize": 7, "color": "#131722"},
          "encoding": {
            "x": {"datum": {"year": 2024, "month": 7, "date": 3, "hours": 18, "utc": true}, "type": "temporal", "scale": {"type": "utc", "domain": [{"year": 2024, "month": 6, "date": 28, "hours": 5, "minutes": 30, "utc": true}, {"year": 2026, "month": 3, "date": 28, "hours": 19, "utc": true}]}, "axis": {"labels": false, "grid": true, "domain": true, "ticks": false, "tickCount": {"interval": "month", "step": 1}}},
            "y": {"datum": 0.5, "type": "quantitative", "scale": {"domain": [0, 1]}, "axis": {"orient": "right", "values": [], "labels": false, "grid": false, "domain": true, "ticks": false}}
          }
        },
        {
          "mark": {"type": "text", "text": "−2.48 M", "align": "left", "baseline": "middle", "fontSize": 7, "color": "#2962ff"},
          "encoding": {
            "x": {"datum": {"year": 2024, "month": 7, "date": 14, "hours": 7, "utc": true}, "type": "temporal"},
            "y": {"datum": 0.5, "type": "quantitative"}
          }
        }
      ]
    },
    {
      "width": 1152,
      "height": 26,
      "title": {"text": "TradingView", "orient": "bottom", "anchor": "start", "frame": "group", "fontSize": 12, "fontWeight": "bold", "color": "#131722", "dx": 30, "offset": 19},
      "layer": [
        {
          "data": {"name": "obv"},
          "mark": {"type": "rule", "strokeWidth": 1.4},
          "encoding": {
            "x": {"field": "t", "type": "temporal", "scale": {"type": "utc", "domain": [{"year": 2024, "month": 6, "date": 28, "hours": 5, "minutes": 30, "utc": true}, {"year": 2026, "month": 3, "date": 28, "hours": 19, "utc": true}]}, "axis": {"labels": true, "grid": true, "domain": true, "ticks": false, "labelPadding": 4, "labelOverlap": false, "labelFlush": false, "tickCount": {"interval": "month", "step": 1}, "labelExpr": "datum.value >= utc(2026, 1, 15) ? '' : (utcmonth(datum.value) == 0 ? utcFormat(datum.value, '%Y') : utcFormat(datum.value, '%b'))", "labelFontWeight": {"condition": {"test": "utcmonth(datum.value) == 0", "value": "bold"}, "value": "normal"}, "labelAlign": {"condition": {"test": "datum.value < utc(2024, 6, 15)", "value": "left"}, "value": "center"}}},
            "y": {"field": "lo", "type": "quantitative", "scale": {"domain": [-1020, -940], "nice": false, "zero": false}, "axis": {"orient": "right", "values": [-980], "labelExpr": "'−980 K'", "grid": true, "domain": true, "ticks": false, "labelPadding": 8}},
            "y2": {"field": "hi"},
            "color": {"field": "k", "type": "nominal", "scale": {"domain": ["strong", "light"], "range": ["#2d2dff", "#a9a9ff"]}, "legend": null}
          }
        },
        {
          "data": {"values": [{}]},
          "mark": {"type": "text", "text": "OBV", "align": "left", "baseline": "middle", "fontSize": 7, "color": "#131722"},
          "encoding": {
            "x": {"datum": {"year": 2024, "month": 7, "date": 3, "hours": 18, "utc": true}, "type": "temporal"},
            "y": {"datum": -968, "type": "quantitative"}
          }
        },
        {
          "data": {"values": [{}]},
          "mark": {"type": "text", "text": "−2.48 M", "align": "left", "baseline": "middle", "fontSize": 7, "color": "#2962ff"},
          "encoding": {
            "x": {"datum": {"year": 2024, "month": 7, "date": 14, "hours": 7, "utc": true}, "type": "temporal"},
            "y": {"datum": -968, "type": "quantitative"}
          }
        }
      ]
    }
  ],
  "config": {
    "font": "Noto Sans",
    "view": {"stroke": null},
    "axis": {"labelFont": "Noto Sans", "labelFontSize": 7, "labelColor": "#131722", "gridColor": "#f0f3fa", "gridWidth": 1, "domainColor": "#e0e3eb", "title": null},
    "axisY": {"labelOverlap": false}
  }
}
